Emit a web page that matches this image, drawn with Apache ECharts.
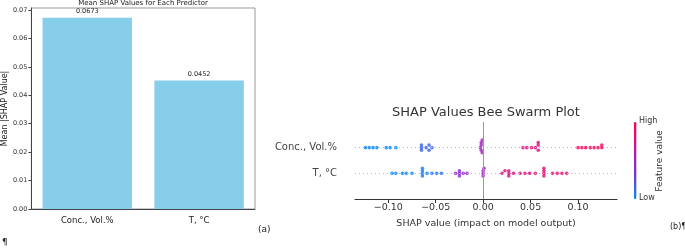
<!DOCTYPE html>
<html><head><meta charset="utf-8">
<script src="https://cdn.jsdelivr.net/npm/echarts@6/dist/echarts.min.js"></script>
<style>html,body{margin:0;padding:0;background:#fff}#c{width:685px;height:250px}</style>
</head><body><div id="c"></div>
<script>
// ---- Panel (a): mean |SHAP| bar chart ----
var barCategories = ['Conc., Vol.%', 'T, °C'];
var barValues = [0.0673, 0.0452];
var barYTicks = [0, 0.01, 0.02, 0.03, 0.04, 0.05, 0.06, 0.07];

// ---- Panel (b): beeswarm ----
var swarmRows = ['T, °C', 'Conc., Vol.%']; // row index 0 (bottom), 1 (top)
var concShap = [-0.124,-0.120,-0.116,-0.112,-0.102,-0.098,-0.092,
  -0.065,-0.065,-0.065,-0.060,-0.057,-0.057,-0.054,
  -0.003,-0.002,-0.002,-0.001,-0.001,-0.002,
  0.042,0.046,0.051,0.055,0.058,0.058,0.058,
  0.100,0.104,0.108,0.113,0.117,0.121,0.125,0.125];
var concFeature = [0.02,0.02,0.02,0.02,0.02,0.02,0.02,
  0.15,0.15,0.15,0.15,0.15,0.15,0.15,
  0.5,0.5,0.5,0.5,0.5,0.5,
  0.8,0.8,0.8,0.8,0.8,0.8,0.8,
  0.96,0.96,0.96,0.96,0.96,0.96,0.96,0.96];
var tShap = [-0.096,-0.092,-0.085,-0.081,-0.075,
  -0.064,-0.064,-0.064,-0.064,
  -0.059,-0.054,-0.049,-0.044,
  -0.029,-0.025,-0.025,-0.025,-0.021,-0.017,
  0.000,0.000,0.001,0.000,
  0.020,0.023,0.027,0.027,0.027,0.032,
  0.039,0.044,0.049,0.055,
  0.064,0.064,0.064,0.064,
  0.073,0.078,0.083,0.088];
var tFeature = [0.03,0.03,0.03,0.03,0.03,
  0.06,0.06,0.06,0.06,
  0.08,0.08,0.1,0.1,
  0.42,0.42,0.42,0.42,0.42,0.42,
  0.5,0.5,0.5,0.5,
  0.8,0.8,0.8,0.8,0.8,0.8,
  0.8,0.8,0.8,0.8,
  0.82,0.82,0.82,0.82,
  0.85,0.85,0.85,0.85];
var swarmXTicks = [-0.10, -0.05, 0.00, 0.05, 0.10];

// deterministic beeswarm layout (no randomness)
function swarm(xs, feats, row) {
  var idx = xs.map(function (v, i) { return i; }).sort(function (a, b) { return xs[a] - xs[b]; });
  var placed = [], out = [];
  var step = 0.1, dxTol = 0.0032;
  idx.forEach(function (i) {
    var x = xs[i], k = 0, off = 0;
    for (k = 0; k < 40; k++) {
      off = (k === 0) ? 0 : (k % 2 ? 1 : -1) * Math.ceil(k / 2) * step;
      var clash = placed.some(function (p) {
        return Math.abs(p[0] - x) < dxTol && Math.abs(p[1] - off) < step * 0.9;
      });
      if (!clash) break;
    }
    placed.push([x, off]);
    out.push([x, row + off, feats[i]]);
  });
  return out;
}

var font = 'DejaVu Sans';
var chart = echarts.init(document.getElementById('c'), null, {renderer: 'canvas'});
chart.setOption({
  animation: false,
  textStyle: {fontFamily: font},
  title: [{
    text: 'Mean SHAP Values for Each Predictor', left: 143, top: 0, padding: 0, textAlign: 'center',
    textStyle: {fontSize: 7, fontWeight: 'normal', color: '#222', fontFamily: font}
  }, {
    text: 'SHAP Values Bee Swarm Plot', left: 486, top: 106, padding: 0, textAlign: 'center',
    textStyle: {fontSize: 13, fontWeight: 'normal', color: '#333', fontFamily: font}
  }],
  grid: [
    {left: 30, top: 8, width: 225, height: 201, show: true, borderColor: '#999', borderWidth: 1},
    {left: 355, top: 122, width: 262, height: 77}
  ],
  xAxis: [{
    gridIndex: 0, type: 'category', data: barCategories,
    axisLine: {lineStyle: {color: '#444'}},
    axisTick: {alignWithLabel: true, length: 3, lineStyle: {color: '#444'}},
    axisLabel: {fontSize: 8.5, color: '#222', margin: 7, fontFamily: font}
  }, {
    gridIndex: 1, type: 'value', min: -0.135, max: 0.141,
    splitLine: {show: false},
    axisLine: {onZero: false, lineStyle: {color: '#333'}},
    axisTick: {length: 4, customValues: swarmXTicks, lineStyle: {color: '#333'}},
    axisLabel: {customValues: swarmXTicks, fontSize: 9.5, color: '#333', margin: 4, fontFamily: font,
      formatter: function (v) { return (Math.abs(v) < 1e-9 ? '0.00' : v.toFixed(2)).replace('-', '\u2212'); }},
    name: 'SHAP value (impact on model output)', nameLocation: 'middle', nameGap: 20,
    nameTextStyle: {fontSize: 9.5, color: '#333', fontFamily: font}
  }],
  yAxis: [{
    gridIndex: 0, type: 'value', min: 0, max: 0.0707,
    splitLine: {show: false},
    axisLine: {show: true, lineStyle: {color: '#444'}},
    axisTick: {show: true, length: 3, customValues: barYTicks, lineStyle: {color: '#444'}},
    axisLabel: {customValues: barYTicks, fontSize: 6.5, color: '#333', margin: 4, fontFamily: font,
      formatter: function (v) { return v.toFixed(2); }},
    name: 'Mean |SHAP Value|', nameLocation: 'middle', nameGap: 19,
    nameTextStyle: {fontSize: 8, color: '#222', fontFamily: font}
  }, {
    gridIndex: 1, type: 'value', min: -1, max: 2, interval: 1,
    splitLine: {show: false}, axisLine: {show: false}, axisTick: {show: false},
    axisLabel: {fontSize: 10, color: '#444', margin: 18, fontFamily: font,
      formatter: function (v) { return swarmRows[v] || ''; }}
  }],
  visualMap: {
    type: 'continuous', min: 0, max: 1, dimension: 2, seriesIndex: [2, 3],
    show: true, calculable: false, left: 634, top: 122, itemWidth: 2.5, itemHeight: 77, padding: 0,
    text: null, showLabel: false,
    inRange: {color: ['#008bfb', '#7a2fe0', '#c2189a', '#ff0052']}
  },
  graphic: [
    {type: 'text', left: 639, top: 117, style: {text: 'High', fontSize: 8, fill: '#333', fontFamily: font}},
    {type: 'text', left: 639, top: 194, style: {text: 'Low', fontSize: 8, fill: '#333', fontFamily: font}},
    {type: 'text', x: 660, y: 161, rotation: Math.PI / 2,
      style: {text: 'Feature value', fontSize: 9, fill: '#333', fontFamily: font, align: 'center', verticalAlign: 'middle'}},
    {type: 'text', left: 258, top: 225, style: {text: '(a)', fontSize: 9, fill: '#222', fontFamily: font}},
    {type: 'text', left: 670, top: 223, style: {text: '(b)¶', fontSize: 8, fill: '#222', fontFamily: font}},
    {type: 'text', left: 2, top: 238, style: {text: '¶', fontSize: 9, fill: '#222', fontFamily: font}}
  ],
  series: [{
    type: 'bar', xAxisIndex: 0, yAxisIndex: 0, data: barValues, barWidth: '80%',
    itemStyle: {color: '#87CEEB'},
    label: {show: true, position: 'top', distance: 3, fontSize: 6.5, color: '#222', fontFamily: font,
      formatter: function (p) { return p.value.toFixed(4); }}
  }, {
    type: 'scatter', xAxisIndex: 1, yAxisIndex: 1, data: [], z: 1, silent: true,
    markLine: {
      silent: true, symbol: 'none', label: {show: false},
      data: [
        {yAxis: 1, lineStyle: {type: [1, 3], color: '#bbb', width: 1}},
        {yAxis: 0, lineStyle: {type: [1, 3], color: '#bbb', width: 1}},
        {xAxis: 0, lineStyle: {type: 'solid', color: '#999', width: 1}}
      ]
    }
  }, {
    type: 'scatter', xAxisIndex: 1, yAxisIndex: 1, z: 3, symbolSize: 3.6,
    data: swarm(concShap, concFeature, 1)
  }, {
    type: 'scatter', xAxisIndex: 1, yAxisIndex: 1, z: 3, symbolSize: 3.6,
    data: swarm(tShap, tFeature, 0)
  }]
});
</script></body></html>
